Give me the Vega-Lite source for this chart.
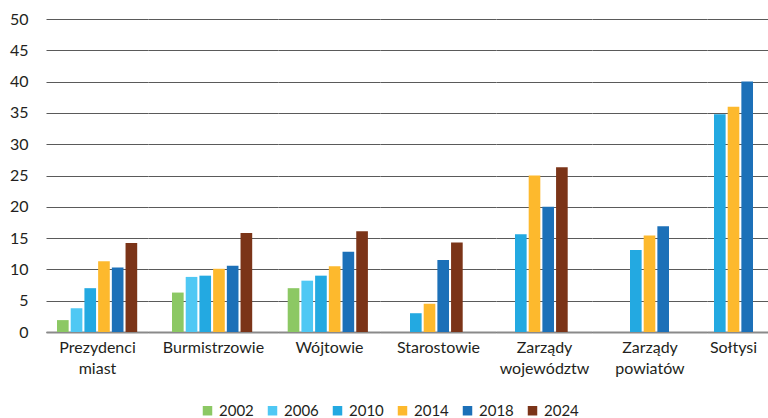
{
  "$schema": "https://vega.github.io/schema/vega-lite/v6.json",
  "padding": {"left": 9, "top": 11, "right": 0, "bottom": 0},
  "background": "white",
  "data": {"values": [
    {"cat": "Prezydenci miast", "year": "2002", "v": 1.9},
    {"cat": "Prezydenci miast", "year": "2006", "v": 3.8},
    {"cat": "Prezydenci miast", "year": "2010", "v": 7.0},
    {"cat": "Prezydenci miast", "year": "2014", "v": 11.3},
    {"cat": "Prezydenci miast", "year": "2018", "v": 10.3},
    {"cat": "Prezydenci miast", "year": "2024", "v": 14.2},
    {"cat": "Burmistrzowie", "year": "2002", "v": 6.3},
    {"cat": "Burmistrzowie", "year": "2006", "v": 8.8},
    {"cat": "Burmistrzowie", "year": "2010", "v": 9.0},
    {"cat": "Burmistrzowie", "year": "2014", "v": 10.1},
    {"cat": "Burmistrzowie", "year": "2018", "v": 10.6},
    {"cat": "Burmistrzowie", "year": "2024", "v": 15.8},
    {"cat": "Wójtowie", "year": "2002", "v": 7.0},
    {"cat": "Wójtowie", "year": "2006", "v": 8.2},
    {"cat": "Wójtowie", "year": "2010", "v": 9.0},
    {"cat": "Wójtowie", "year": "2014", "v": 10.5},
    {"cat": "Wójtowie", "year": "2018", "v": 12.8},
    {"cat": "Wójtowie", "year": "2024", "v": 16.1},
    {"cat": "Starostowie", "year": "2010", "v": 3.0},
    {"cat": "Starostowie", "year": "2014", "v": 4.5},
    {"cat": "Starostowie", "year": "2018", "v": 11.5},
    {"cat": "Starostowie", "year": "2024", "v": 14.3},
    {"cat": "Zarządy województw", "year": "2010", "v": 15.6},
    {"cat": "Zarządy województw", "year": "2014", "v": 25.0},
    {"cat": "Zarządy województw", "year": "2018", "v": 20.0},
    {"cat": "Zarządy województw", "year": "2024", "v": 26.3},
    {"cat": "Zarządy powiatów", "year": "2010", "v": 13.1},
    {"cat": "Zarządy powiatów", "year": "2014", "v": 15.4},
    {"cat": "Zarządy powiatów", "year": "2018", "v": 16.9},
    {"cat": "Sołtysi", "year": "2010", "v": 34.8},
    {"cat": "Sołtysi", "year": "2014", "v": 36.0},
    {"cat": "Sołtysi", "year": "2018", "v": 40.0}
  ]},
  "spacing": 0,
  "resolve": {"scale": {"xOffset": "independent", "x": "independent", "y": "independent"}},
  "hconcat": [
    {
      "width": 102, "height": 313,
      "transform": [{"filter": {"field": "cat", "equal": "Prezydenci miast"}}],
      "mark": {"type": "bar"},
      "encoding": {
        "x": {"field": "cat", "type": "nominal", "scale": {"paddingInner": 0, "paddingOuter": 0}, "axis": {"title": ["Prezydenci", "miast"]}},
        "xOffset": {"field": "year", "type": "nominal", "scale": {"paddingInner": 0.15, "paddingOuter": 0, "range": [11, 91.2]}},
        "y": {"field": "v", "type": "quantitative", "scale": {"domain": [0, 50], "nice": false}, "axis": {"title": null, "values": [0,5,10,15,20,25,30,35,40,45,50], "labels": true, "labelPadding": 18}},
        "color": {"field": "year", "type": "nominal",
          "scale": {"domain": ["2002","2006","2010","2014","2018","2024"], "range": ["#8cc864","#4fc8f4","#23a9e1","#fdb92d","#1c70b8","#7b3418"]},
          "legend": {"orient": "none", "legendX": 154, "legendY": 384, "direction": "horizontal", "title": null}}
      }
    },
    {
      "width": 130, "height": 313,
      "transform": [{"filter": {"field": "cat", "equal": "Burmistrzowie"}}],
      "mark": {"type": "bar"},
      "encoding": {
        "x": {"field": "cat", "type": "nominal", "scale": {"paddingInner": 0, "paddingOuter": 0}, "axis": {"title": "Burmistrzowie"}},
        "xOffset": {"field": "year", "type": "nominal", "scale": {"paddingInner": 0.15, "paddingOuter": 0, "range": [24, 104.2]}},
        "y": {"field": "v", "type": "quantitative", "scale": {"domain": [0, 50], "nice": false}, "axis": {"title": null, "values": [0,5,10,15,20,25,30,35,40,45,50], "labels": false}},
        "color": {"field": "year", "type": "nominal"}
      }
    },
    {
      "width": 102, "height": 313,
      "transform": [{"filter": {"field": "cat", "equal": "Wójtowie"}}],
      "mark": {"type": "bar"},
      "encoding": {
        "x": {"field": "cat", "type": "nominal", "scale": {"paddingInner": 0, "paddingOuter": 0}, "axis": {"title": "Wójtowie"}},
        "xOffset": {"field": "year", "type": "nominal", "scale": {"paddingInner": 0.15, "paddingOuter": 0, "range": [9.7, 89.9]}},
        "y": {"field": "v", "type": "quantitative", "scale": {"domain": [0, 50], "nice": false}, "axis": {"title": null, "values": [0,5,10,15,20,25,30,35,40,45,50], "labels": false}},
        "color": {"field": "year", "type": "nominal"}
      }
    },
    {
      "width": 116, "height": 313,
      "transform": [{"filter": {"field": "cat", "equal": "Starostowie"}}],
      "mark": {"type": "bar"},
      "encoding": {
        "x": {"field": "cat", "type": "nominal", "scale": {"paddingInner": 0, "paddingOuter": 0}, "axis": {"title": "Starostowie"}},
        "xOffset": {"field": "year", "type": "nominal", "scale": {"paddingInner": 0.15, "paddingOuter": 0, "range": [30, 82.7]}},
        "y": {"field": "v", "type": "quantitative", "scale": {"domain": [0, 50], "nice": false}, "axis": {"title": null, "values": [0,5,10,15,20,25,30,35,40,45,50], "labels": false}},
        "color": {"field": "year", "type": "nominal"}
      }
    },
    {
      "width": 96, "height": 313,
      "transform": [{"filter": {"field": "cat", "equal": "Zarządy województw"}}],
      "mark": {"type": "bar"},
      "encoding": {
        "x": {"field": "cat", "type": "nominal", "scale": {"paddingInner": 0, "paddingOuter": 0}, "axis": {"title": ["Zarządy", "województw"]}},
        "xOffset": {"field": "year", "type": "nominal", "scale": {"paddingInner": 0.15, "paddingOuter": 0, "range": [19, 71.7]}},
        "y": {"field": "v", "type": "quantitative", "scale": {"domain": [0, 50], "nice": false}, "axis": {"title": null, "values": [0,5,10,15,20,25,30,35,40,45,50], "labels": false}},
        "color": {"field": "year", "type": "nominal"}
      }
    },
    {
      "width": 115, "height": 313,
      "transform": [{"filter": {"field": "cat", "equal": "Zarządy powiatów"}}],
      "mark": {"type": "bar"},
      "encoding": {
        "x": {"field": "cat", "type": "nominal", "scale": {"paddingInner": 0, "paddingOuter": 0}, "axis": {"title": ["Zarządy", "powiatów"]}},
        "xOffset": {"field": "year", "type": "nominal", "scale": {"paddingInner": 0.15, "paddingOuter": 0, "range": [38, 77]}},
        "y": {"field": "v", "type": "quantitative", "scale": {"domain": [0, 50], "nice": false}, "axis": {"title": null, "values": [0,5,10,15,20,25,30,35,40,45,50], "labels": false}},
        "color": {"field": "year", "type": "nominal"}
      }
    },
    {
      "width": 62, "height": 313,
      "transform": [{"filter": {"field": "cat", "equal": "Sołtysi"}}],
      "mark": {"type": "bar"},
      "encoding": {
        "x": {"field": "cat", "type": "nominal", "scale": {"paddingInner": 0, "paddingOuter": 0}, "axis": {"title": "Sołtysi", "titleX": 26}},
        "xOffset": {"field": "year", "type": "nominal", "scale": {"paddingInner": 0.15, "paddingOuter": 0, "range": [7, 46]}},
        "y": {"field": "v", "type": "quantitative", "scale": {"domain": [0, 50], "nice": false}, "axis": {"title": null, "values": [0,5,10,15,20,25,30,35,40,45,50], "labels": false}},
        "color": {"field": "year", "type": "nominal"}
      }
    }
  ],
  "config": {
    "view": {"stroke": null},
    "font": "Lato",
    "axisX": {
      "labels": false, "ticks": false, "tickSize": 0,
      "domain": true, "domainColor": "#8a8a8a", "domainWidth": 2,
      "grid": false,
      "titleFont": "Lato", "titleFontSize": 16, "titleFontWeight": "normal", "titleColor": "#231f20",
      "titlePadding": 7, "titleLineHeight": 21.5
    },
    "axisY": {
      "ticks": false, "tickSize": 0, "domain": false,
      "grid": true, "gridColor": "#5a5a5a", "gridWidth": 1,
      "labelFont": "Lato", "labelFontSize": 16, "labelColor": "#231f20"
    },
    "legend": {
      "symbolType": "square", "symbolSize": 90, "symbolStrokeWidth": 0,
      "labelFont": "Lato", "labelFontSize": 15, "labelColor": "#231f20",
      "labelOffset": 4, "columnPadding": 11
    }
  }
}
